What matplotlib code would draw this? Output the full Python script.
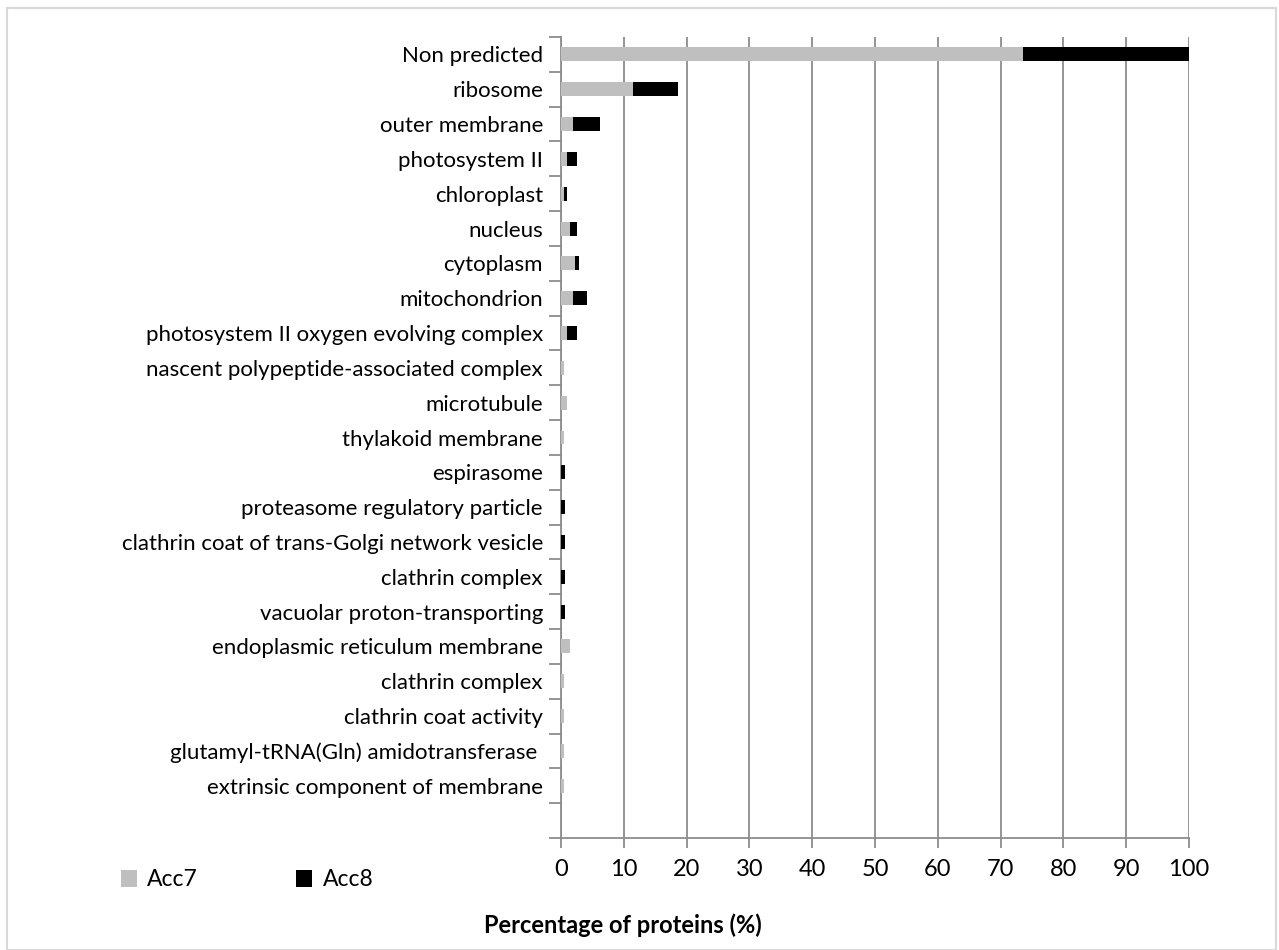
import matplotlib
matplotlib.use("Agg")
import matplotlib.pyplot as plt
import numpy as np
from matplotlib.patches import Rectangle

categories = [
    "Non predicted", "ribosome", "outer membrane", "photosystem II", "chloroplast",
    "nucleus", "cytoplasm", "mitochondrion", "photosystem II oxygen evolving complex",
    "nascent polypeptide-associated complex", "microtubule", "thylakoid membrane",
    "espirasome", "proteasome regulatory particle",
    "clathrin coat of trans-Golgi network vesicle", "clathrin complex",
    "vacuolar proton-transporting", "endoplasmic reticulum membrane",
    "clathrin complex", "clathrin coat activity",
    "glutamyl-tRNA(Gln) amidotransferase ", "extrinsic component of membrane",
]
acc7 = [73.6, 11.4, 1.9, 0.9, 0.4, 1.4, 2.2, 1.9, 0.9, 0.4, 0.9, 0.4,
        0.0, 0.0, 0.0, 0.0, 0.0, 1.4, 0.4, 0.4, 0.4, 0.4]
acc8 = [26.4, 7.3, 4.3, 1.6, 0.6, 1.1, 0.6, 2.2, 1.6, 0.0, 0.0, 0.0,
        0.6, 0.6, 0.6, 0.6, 0.6, 0.0, 0.0, 0.0, 0.0, 0.0]
series_names = ["Acc7", "Acc8"]
xticks = list(range(0, 101, 10))
xlabel = "Percentage of proteins (%)"

plt.rcParams['font.family'] = ['Lato', 'DejaVu Sans']

fig = plt.figure(figsize=(12.79, 9.50), dpi=100)
ax = fig.add_axes([561/1279, 1-838/950, (1189-561)/1279, (838-37)/950])

y = np.arange(len(categories))
ax.barh(y, acc7, height=0.4, color="#bfbfbf", label=series_names[0], zorder=3)
ax.barh(y, acc8, left=acc7, height=0.4, color="#000000", label=series_names[1], zorder=3)

ax.set_xlim(0, 100)
ax.set_ylim(len(categories) + 0.5, -0.5)
ax.set_xticks(xticks)
ax.set_xticklabels([str(t) for t in xticks], fontsize=17)
ax.set_yticks(y)
ax.set_yticklabels(categories, fontsize=16)
ax.set_yticks(np.arange(-0.5, len(categories) + 1.0, 1.0), minor=True)
ax.tick_params(axis='y', which='major', length=0, pad=13)
ax.tick_params(axis='y', which='minor', length=9, width=1.3, color="#8c8c8c")
ax.tick_params(axis='x', which='major', length=7, width=1.3, color="#8c8c8c", pad=8)

ax.grid(axis='x', color="#8c8c8c", linewidth=1.3, zorder=0)
for s in ["top", "right"]:
    ax.spines[s].set_visible(False)
for s in ["left", "bottom"]:
    ax.spines[s].set_color("#8c8c8c")
    ax.spines[s].set_linewidth(1.3)

fig.text(623/1279, 1-925/950, xlabel, ha="center", va="center", fontsize=17, fontweight="bold")

handles, labels = ax.get_legend_handles_labels()
leg = fig.legend(handles, labels, loc="center left", bbox_to_anchor=(100/1279, 1-880/950),
                 ncol=2, frameon=False, fontsize=16.5, handlelength=0.7, handleheight=0.7,
                 columnspacing=4.3, handletextpad=0.45)

fig.patches.append(Rectangle((7/1279, 0.0), 1269/1279, 1-8/950, transform=fig.transFigure,
                             fill=False, edgecolor="#d9d9d9", linewidth=1.5))

fig.savefig("out.png", dpi=100)
